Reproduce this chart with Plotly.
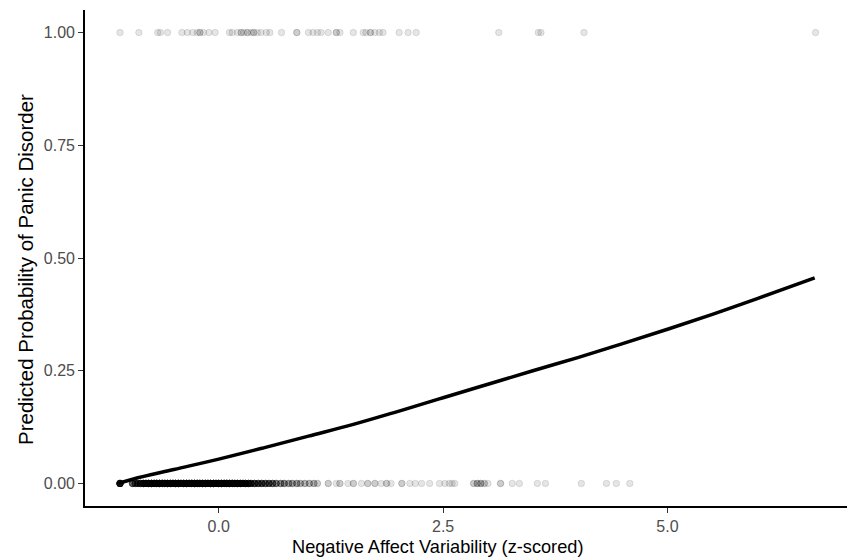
import plotly.graph_objects as go
import numpy as np

# Observed cases (panic disorder = 1), x positions (z-scored NA variability)
top_x = [-1.10, -0.89, -0.68, -0.65, -0.57, -0.41, -0.35, -0.29, -0.24, -0.21, -0.21,
         -0.17, -0.11, -0.04, 0.12, 0.15, 0.21, 0.25, 0.25, 0.28, 0.32, 0.32, 0.36,
         0.39, 0.39, 0.43, 0.47, 0.53, 0.57, 0.70, 0.87, 0.87, 1.00, 1.05, 1.10, 1.14,
         1.22, 1.31, 1.31, 1.35, 1.50, 1.61, 1.64, 1.69, 1.69, 1.74, 1.79, 1.83,
         2.01, 2.11, 2.20, 3.12, 3.56, 3.59, 4.07, 6.65]
top_y = [1.0] * len(top_x)

# Observed non-cases (panic disorder = 0): x positions and how many cases share each
bottom_x = [-1.10, -0.96, -0.93, -0.90, -0.87, -0.84, -0.81, -0.78, -0.75, -0.72,
            -0.69, -0.66, -0.63, -0.60, -0.57, -0.54, -0.51, -0.48, -0.45, -0.42,
            -0.39, -0.36, -0.33, -0.30, -0.27, -0.24, -0.21, -0.18, -0.15, -0.12,
            -0.09, -0.06, -0.03, 0.00, 0.03, 0.06, 0.09, 0.12, 0.15, 0.18, 0.21,
            0.24, 0.27, 0.30, 0.33, 0.36, 0.40, 0.44, 0.48, 0.52, 0.56, 0.60, 0.64,
            0.69, 0.73, 0.78, 0.82, 0.87, 0.91, 0.96, 1.01, 1.06, 1.10, 1.22, 1.31,
            1.35, 1.44, 1.50, 1.59, 1.66, 1.74, 1.81, 1.87, 1.92, 2.04, 2.13, 2.19,
            2.26, 2.35, 2.46, 2.52, 2.57, 2.60, 2.63, 2.84, 2.88, 2.92, 2.96, 3.00,
            3.14, 3.27, 3.35, 3.55, 3.64, 4.04, 4.32, 4.43, 4.58]
bottom_n = [20, 8, 8, 9, 10, 14, 20, 20, 20, 20,
            20, 20, 20, 20, 20, 20, 20, 20, 20, 20,
            20, 20, 20, 20, 20, 20, 20, 20, 20, 20,
            20, 20, 20, 20, 20, 20, 20, 18, 18, 16,
            16, 15, 14, 13, 12, 11, 10, 9, 9, 8, 8, 7, 6,
            5, 5, 4, 4, 4, 3, 3, 3, 3, 2, 2, 1,
            2, 1, 2, 1, 2, 2, 1, 2, 1, 2, 1, 1,
            1, 1, 1, 1, 1, 1, 1, 2, 3, 3, 2, 1,
            2, 1, 1, 1, 1, 1, 1, 1, 1]

# Predicted probability curve
curve_x = [-1.12, -0.95, -0.50, 0.00, 0.50, 1.00, 1.50, 2.00, 2.50, 3.00, 3.50,
           4.00, 4.50, 5.00, 5.50, 6.00, 6.64]
curve_y = [0.000, 0.010, 0.031, 0.054, 0.079, 0.105, 0.131, 0.160, 0.190, 0.220,
           0.250, 0.279, 0.310, 0.342, 0.375, 0.410, 0.456]

x_ticks = [0.0, 2.5, 5.0]
x_tick_labels = ["0.0", "2.5", "5.0"]
y_ticks = [0.0, 0.25, 0.5, 0.75, 1.0]
y_tick_labels = ["0.00", "0.25", "0.50", "0.75", "1.00"]

bx = np.repeat(bottom_x, bottom_n)
by = np.zeros(len(bx))

pt_color = "rgba(0,0,0,0.1)"
marker = dict(size=6.5, color=pt_color, line=dict(width=1, color=pt_color))

fig = go.Figure()
fig.add_trace(go.Scatter(x=bx, y=by, mode="markers", marker=marker, hoverinfo="skip"))
fig.add_trace(go.Scatter(x=top_x, y=top_y, mode="markers", marker=marker, hoverinfo="skip"))
fig.add_trace(go.Scatter(x=curve_x, y=curve_y, mode="lines",
                         line=dict(color="black", width=3.5, shape="spline")))

font = "Liberation Sans, Arial, Helvetica, sans-serif"
axis_common = dict(showgrid=False, zeroline=False, showline=True, linecolor="black",
                   linewidth=1.6, ticks="outside", ticklen=5, tickwidth=1.2,
                   tickcolor="#333333", automargin=False,
                   tickfont=dict(size=16, color="#4d4d4d", family=font))

L, R, T, B = 85, 0, 10, 52
W, H = 847, 558
pw, ph = W - L - R, H - T - B

fig.update_layout(
    width=W, height=H,
    margin=dict(l=L, r=R, t=T, b=B, autoexpand=False),
    paper_bgcolor="white", plot_bgcolor="white",
    showlegend=False,
    font=dict(family=font),
    xaxis=dict(range=[-1.49, 7.0], tickvals=x_ticks, ticktext=x_tick_labels, **axis_common),
    yaxis=dict(range=[-0.05, 1.05], tickvals=y_ticks, ticktext=y_tick_labels, **axis_common),
    annotations=[
        dict(text="Negative Affect Variability (z-scored)", xref="paper", yref="paper",
             x=(437 - L) / pw, y=(H - B - 547) / ph, xanchor="center", yanchor="middle",
             showarrow=False, font=dict(size=18.2, color="black", family=font)),
        dict(text="Predicted Probability of Panic Disorder", xref="paper", yref="paper",
             x=(25 - L) / pw, y=(H - B - 270) / ph, xanchor="center", yanchor="middle",
             textangle=-90, showarrow=False, font=dict(size=20.5, color="black", family=font)),
    ],
)

fig.write_html("out.html", config={"displayModeBar": False},
               post_script="document.body.style.margin='0';document.body.style.overflow='hidden';")
